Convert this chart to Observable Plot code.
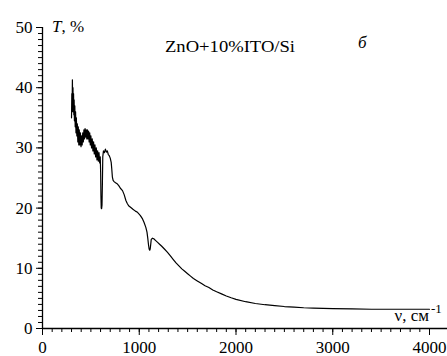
<!DOCTYPE html>
<html><head><meta charset="utf-8">
<script src="https://cdn.jsdelivr.net/npm/d3@7"></script>
<script src="https://cdn.jsdelivr.net/npm/@observablehq/plot@0.6"></script>
<style>body{margin:0;background:#fff} svg{display:block}</style>
</head><body><div id="chart"></div>
<script>
const nu = [300,303,306,309,312,315,318,321,324,327,330,334,338,342,346,350,355,360,365,370,375,380,386,392,398,404,410,416,422,428,434,440,446,452,458,464,470,476,482,488,494,500,507,514,521,528,535,542,549,556,563,570,577,584,591,597,
601,604,607,611,615,619,623,630,640,650,660,670,680,690,700,710,716,722,730,740,755,775,790,805,827,845,861,875,890,913,935,960,982,1010,1034,1050,1068,1080,1088,1095,1102,1108,1113,1118,1124,1137,1150,1170,1190,1210,1230,1260,1290,1320,1350,1380,1410,1440,1470,1500,1530,1560,1600,1640,1680,1720,1760,1800,1850,1900,1950,2000,2100,2200,2300,2400,2500,2600,2700,2800,2900,3000,3200,3400,3600,3800,4000];
const T = [35,39,36,41.3,37,40,36,39,35.5,38,34.5,37,33.5,36,32.5,35,32,34,31,33.5,30.5,33,30.5,32.5,30.2,32,30.5,32.5,31,33,31.5,33.2,31.8,33,31.5,33,31.5,32.8,31,32.5,30.5,32,30,31.5,29.5,31,29,30.5,28.5,30,28,29.5,27.8,29.2,27.5,28.5,
26,22,20,19.9,20.5,24,28.5,29.5,29.2,29.8,29.3,29.5,28.9,28.7,28.3,27.6,26.5,25.2,24.6,24.4,24.2,24.0,23.7,23.3,22.9,22.2,21.3,20.8,20.4,20.1,19.8,19.5,19.3,18.8,18.2,17.6,16.8,16.0,15.0,14.0,13.2,13.0,13.2,13.9,14.8,15.0,14.9,14.6,14.3,14.0,13.7,13.2,12.7,12.1,11.5,10.9,10.4,9.9,9.5,9.1,8.7,8.3,7.9,7.5,7.1,6.8,6.4,6.1,5.75,5.4,5.1,4.85,4.45,4.15,3.95,3.8,3.65,3.55,3.45,3.4,3.35,3.3,3.25,3.2,3.2,3.2,3.2];
const xMajor = [0,1000,2000,3000,4000];
const yMajor = [0,10,20,30,40,50];
const xMinor = d3.range(0, 4001, 100);
const yMinor = d3.range(0, 51, 1);
const title = "ZnO+10%ITO/Si";
const panel = "б";
const data = nu.map((v,i)=>({nu:v, T:T[i]}));
const font = "'Liberation Serif','Times New Roman',serif";
const plot = Plot.plot({
  width:447, height:356, marginLeft:42, marginRight:18, marginTop:27, marginBottom:28,
  style:{fontFamily:font, fontSize:"17px", background:"#fff", color:"#000", overflow:"visible"},
  x:{domain:[0,4000]}, y:{domain:[0,50]},
  marks:[
    Plot.axisX({ticks:xMinor, tickSize:4, tickFormat:()=>"", label:null, stroke:"#000"}),
    Plot.axisX({ticks:xMajor, tickSize:7, tickPadding:5, tickFormat:d=>String(d), label:null, stroke:"#000", fill:"#000"}),
    Plot.axisY({ticks:yMinor, tickSize:4, tickFormat:()=>"", label:null, stroke:"#000"}),
    Plot.axisY({ticks:yMajor, tickSize:6, tickPadding:4, tickFormat:d=>String(d), label:null, stroke:"#000", fill:"#000"}),
    Plot.ruleX([0], {y1:0, y2:50, stroke:"#000", strokeWidth:1.3}),
    Plot.ruleY([0], {x1:0, x2:4190, stroke:"#000", strokeWidth:1.3}),
    Plot.line(data, {x:"nu", y:"T", stroke:"#000", strokeWidth:1.2})
  ]
});
document.getElementById("chart").appendChild(plot);
const svg = d3.select(plot);
const g = svg.append("g").attr("font-family", font).attr("font-size", 17).attr("fill", "#000").attr("text-anchor", "start");
const t1 = g.append("text").attr("x", 52).attr("y", 32);
t1.append("tspan").attr("font-style","italic").text("T");
t1.append("tspan").text(", %");
g.append("text").attr("x", 165).attr("y", 52).attr("textLength", 130).attr("lengthAdjust","spacingAndGlyphs").text(title);
g.append("text").attr("x", 358).attr("y", 48).attr("font-style","italic").text(panel);
g.append("text").attr("x", 429).attr("y", 321).attr("text-anchor","end").text("ν, см");
g.append("text").attr("x", 431).attr("y", 313).attr("font-size", 13).text("-1");
</script></body></html>
